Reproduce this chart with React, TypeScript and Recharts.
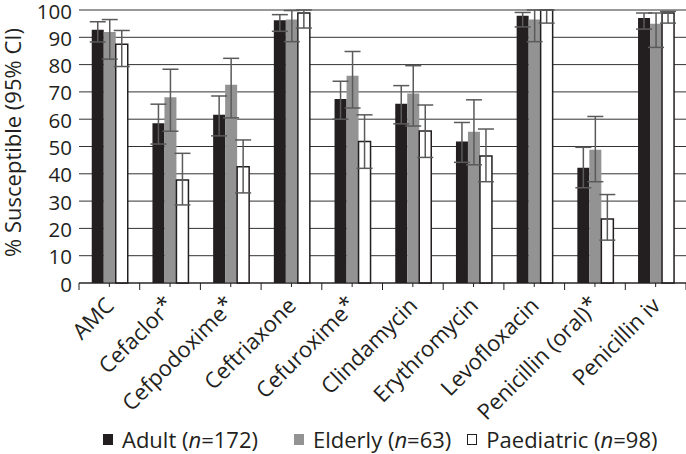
import React from "react";
import {
  BarChart,
  Bar,
  XAxis,
  YAxis,
  CartesianGrid,
  ErrorBar,
  Legend,
} from "recharts";

const drugs = [
  "AMC",
  "Cefaclor*",
  "Cefpodoxime*",
  "Ceftriaxone",
  "Cefuroxime*",
  "Clindamycin",
  "Erythromycin",
  "Levofloxacin",
  "Penicillin (oral)*",
  "Penicillin iv",
];

// % susceptible with 95% CI bounds
const adult = [92.8, 58.5, 61.6, 96.2, 67.4, 65.7, 51.8, 97.9, 42.2, 97.1];
const adultLow = [88.3, 50.9, 53.9, 92.2, 60.0, 58.3, 44.2, 93.8, 34.9, 93.0];
const adultHigh = [95.7, 65.5, 68.5, 98.3, 73.9, 72.3, 58.8, 99.1, 49.7, 98.9];

const elderly = [91.9, 68.0, 72.6, 96.5, 75.9, 69.4, 55.4, 96.5, 48.8, 95.0];
const elderlyLow = [82.0, 55.6, 60.5, 88.4, 64.1, 57.5, 43.3, 88.4, 37.1, 86.3];
const elderlyHigh = [96.5, 78.3, 82.3, 99.8, 84.8, 79.6, 67.1, 100, 61.0, 98.9];

const paed = [87.5, 37.7, 42.6, 98.9, 51.8, 55.7, 46.5, 100, 23.4, 98.9];
const paedLow = [79.3, 28.6, 33.0, 93.4, 42.0, 46.0, 37.1, 95.2, 15.7, 95.2];
const paedHigh = [92.5, 47.5, 52.4, 100, 61.6, 65.2, 56.4, 100, 32.4, 99.5];

const groups = ["Adult", "Elderly", "Paediatric"];
const groupN = [172, 63, 98];

const yTicks = [0, 10, 20, 30, 40, 50, 60, 70, 80, 90, 100];

const rows = drugs.map((drug, i) => ({
  drug,
  adult: adult[i],
  adultErr: [adult[i] - adultLow[i], adultHigh[i] - adult[i]],
  elderly: elderly[i],
  elderlyErr: [elderly[i] - elderlyLow[i], elderlyHigh[i] - elderly[i]],
  paed: paed[i],
  paedErr: [paed[i] - paedLow[i], paedHigh[i] - paed[i]],
}));

const FONT = "'Open Sans', 'Noto Sans', sans-serif";
const INK = "#231f20";
const ERR = "#5a5a5a";
const swatch = [
  { fill: INK, stroke: INK },
  { fill: "#939393", stroke: "#939393" },
  { fill: "#fff", stroke: INK },
];
// space before each legend entry
const legendGap = [0, 36, 16];

function DrugTick(props: any) {
  const { x, y, payload, index, visibleTicksCount, width } = props;
  const half =
    payload.offset != null ? payload.offset : width / visibleTicksCount / 2;
  const label: string = payload.value;
  const star = label.endsWith("*");
  const name = star ? label.slice(0, -1) : label;
  return (
    <g>
      <line x1={x} x2={x} y1={y} y2={y + 4} stroke={INK} />
      <line x1={x - half} x2={x - half} y1={y} y2={y + 7} stroke={INK} />
      {index === visibleTicksCount - 1 && (
        <line x1={x + half} x2={x + half} y1={y} y2={y + 7} stroke={INK} />
      )}
      <text
        transform={`translate(${x + 6},${y + 24}) rotate(-45)`}
        textAnchor="end"
        fontFamily={FONT}
        fontSize={22}
        fill={INK}
      >
        {name}
        {star && <tspan dy={-3}>*</tspan>}
      </text>
    </g>
  );
}

function YTick(props: any) {
  const { x, y, payload } = props;
  return (
    <text
      x={x}
      y={y + 8.5}
      textAnchor="end"
      fontFamily={FONT}
      fontSize={20.5}
      fill={INK}
    >
      {payload.value}
    </text>
  );
}

function YLabel(props: any) {
  const vb = props.viewBox || { y: 10, height: 273 };
  const cy = vb.y + vb.height / 2 - 4;
  return (
    <text
      x={21}
      y={cy}
      transform={`rotate(-90, 21, ${cy})`}
      textAnchor="middle"
      fontFamily={FONT}
      fontSize={22}
      fill={INK}
    >
      % Susceptible (95% CI)
    </text>
  );
}

function GroupLegend() {
  return (
    <div
      style={{
        display: "flex",
        justifyContent: "flex-start",
        alignItems: "center",
        paddingLeft: 103,
        fontFamily: FONT,
        fontSize: 22,
        color: INK,
        lineHeight: "30px",
        whiteSpace: "nowrap",
      }}
    >
      {groups.map((g, i) => (
        <div
          key={g}
          style={{ display: "flex", alignItems: "center", marginLeft: legendGap[i] }}
        >
          <span
            style={{
              display: "inline-block",
              width: 10,
              height: 11,
              background: swatch[i].fill,
              border: i === 2 ? `1px solid ${INK}` : "none",
              marginRight: 9,
              boxSizing: "border-box",
            }}
          />
          <span>
            {g} (<i>n</i>={groupN[i]})
          </span>
        </div>
      ))}
    </div>
  );
}

export default function App() {
  return (
    <div style={{ position: "absolute", left: 0, top: 0, background: "#fff" }}>
      <BarChart
        width={686}
        height={454}
        data={rows}
        margin={{ top: 10, right: 0, bottom: 0, left: 0 }}
        barCategoryGap="21%"
        barGap={0}
      >
        <CartesianGrid vertical={false} stroke="#333" />
        <XAxis
          dataKey="drug"
          interval={0}
          height={141}
          tickSize={0}
          tickMargin={0}
          tickLine={false}
          axisLine={{ stroke: INK }}
          tick={<DrugTick />}
        />
        <YAxis
          domain={[0, 100]}
          ticks={yTicks}
          interval={0}
          width={79}
          axisLine={false}
          tickLine={false}
          tickSize={0}
          tickMargin={7}
          tick={<YTick />}
          label={<YLabel />}
        />
        <Legend
          verticalAlign="bottom"
          height={30}
          wrapperStyle={{ left: 0, width: 686 }}
          content={<GroupLegend />}
        />
        <Bar dataKey="adult" fill={swatch[0].fill} isAnimationActive={false}>
          <ErrorBar dataKey="adultErr" stroke={ERR} strokeWidth={1.5} width={8} />
        </Bar>
        <Bar dataKey="elderly" fill={swatch[1].fill} isAnimationActive={false}>
          <ErrorBar dataKey="elderlyErr" stroke={ERR} strokeWidth={1.5} width={8} />
        </Bar>
        <Bar
          dataKey="paed"
          fill={swatch[2].fill}
          stroke={INK}
          strokeWidth={1.5}
          isAnimationActive={false}
        >
          <ErrorBar dataKey="paedErr" stroke={ERR} strokeWidth={1.5} width={8} />
        </Bar>
      </BarChart>
    </div>
  );
}
